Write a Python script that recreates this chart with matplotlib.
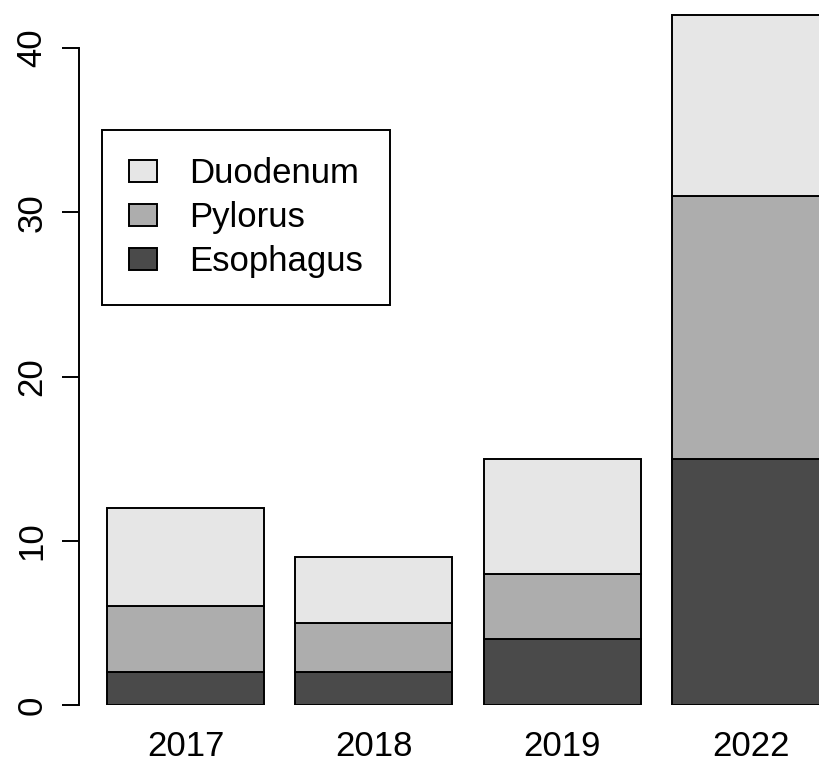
import matplotlib
matplotlib.use("Agg")
import matplotlib.pyplot as plt
import numpy as np

# data
years = ["2017", "2018", "2019", "2022"]
esophagus = [2, 2, 4, 15]
pylorus = [4, 3, 4, 16]
duodenum = [6, 4, 7, 11]
yticks = [0, 10, 20, 30, 40]

colors = {"Esophagus": "#4A4A4A", "Pylorus": "#ADADAD", "Duodenum": "#E6E6E6"}

plt.rcParams['font.family'] = ['Liberation Sans', 'DejaVu Sans']

W, H = 819, 765
fig = plt.figure(figsize=(W / 100, H / 100), dpi=100)
ax = fig.add_axes([79 / W, 60 / H, 740 / W, 705 / H])

# R-style barplot positions: width 1, space 0.2
x = 0.7 + 1.2 * np.arange(len(years))
lw = 1.4
b1 = ax.bar(x, esophagus, width=1, color=colors["Esophagus"], edgecolor="black",
            linewidth=lw, label="Esophagus")
bottom2 = np.array(esophagus)
b2 = ax.bar(x, pylorus, width=1, bottom=bottom2, color=colors["Pylorus"],
            edgecolor="black", linewidth=lw, label="Pylorus")
bottom3 = bottom2 + np.array(pylorus)
b3 = ax.bar(x, duodenum, width=1, bottom=bottom3, color=colors["Duodenum"],
            edgecolor="black", linewidth=lw, label="Duodenum")

ax.set_xlim(0.2 - 28 / 157, 0.2 + 712 / 157)
ax.set_ylim(0, 705 / 16.425)

for s in ["top", "right", "bottom"]:
    ax.spines[s].set_visible(False)
ax.spines["left"].set_bounds(0, 40)
ax.spines["left"].set_linewidth(lw)

ax.set_yticks(yticks)
ax.set_yticklabels([str(v) for v in yticks], rotation=90, va="center")
ax.tick_params(axis="y", length=12, width=lw, pad=10, labelsize=25)
ax.set_xticks(x)
ax.set_xticklabels(years)
ax.tick_params(axis="x", length=0, pad=18, labelsize=25)

leg = ax.legend(handles=[b3, b2, b1], labels=["Duodenum", "Pylorus", "Esophagus"],
                loc="upper left", bbox_to_anchor=(102 / W, 1 - 130 / H),
                bbox_transform=fig.transFigure, borderaxespad=0,
                fontsize=25, frameon=True, fancybox=False, framealpha=1,
                edgecolor="black", handlelength=0.81, handleheight=0.63,
                handletextpad=0.92, labelspacing=0.32, borderpad=0.78)
leg.get_frame().set_linewidth(lw)

fig.savefig("out.png", dpi=100)
